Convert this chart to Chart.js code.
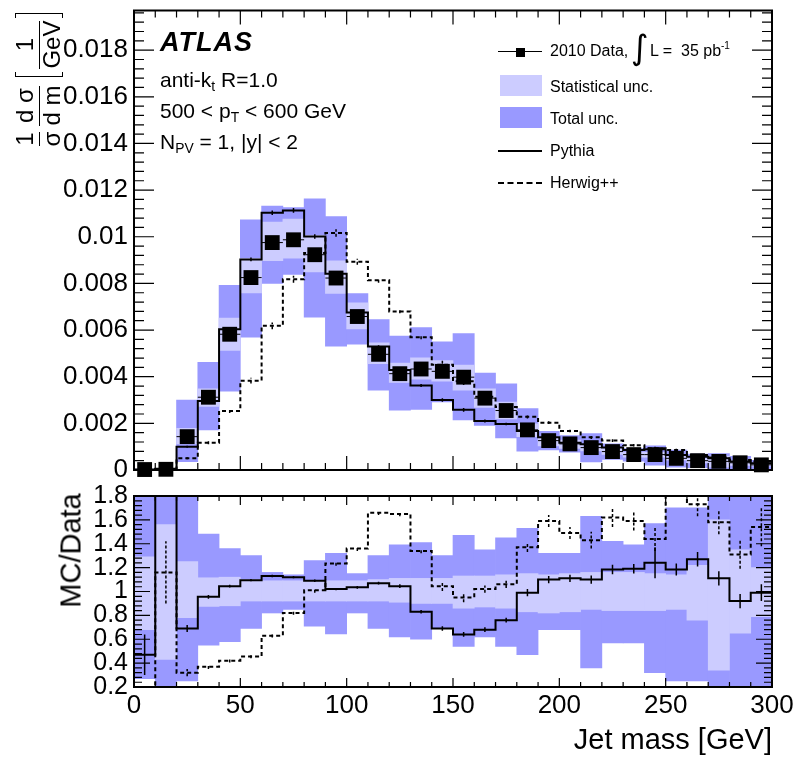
<!DOCTYPE html>
<html>
<head>
<meta charset="utf-8">
<title>Jet mass</title>
<script src="https://cdn.jsdelivr.net/npm/chart.js@4.4.1/dist/chart.umd.min.js"></script>
<style>
  body { margin: 0; background: #fff; }
  #wrap { position: relative; width: 802px; height: 757px; overflow: hidden; font-family: "Liberation Sans", Arial, sans-serif; color: #000; }
  #wrap canvas { position: absolute; left: 0; }
  .t { position: absolute; white-space: nowrap; line-height: 1; }
  .t sub { font-size: 0.66em; vertical-align: -0.32em; line-height: 0; }
  .leg { font-size: 16px; }
  .key { position: absolute; }
  .rot { position: absolute; display: flex; align-items: center; justify-content: center; transform: rotate(-90deg); white-space: nowrap; }
  .frac { display: inline-flex; flex-direction: column; align-items: center; margin: 0 3px; line-height: 0.95; }
  .frac .bar { align-self: stretch; border-top: 1.6px solid #000; margin: 2px 0 1px; }
  .brk { display: inline-block; width: 5px; height: 48px; border: 1.6px solid #000; box-sizing: border-box; }
  .brk.l { border-right: none; margin-left: 6px; }
  .brk.r { border-left: none; }
</style>
</head>
<body>
<div id="wrap">
  <canvas id="ratio" width="802" height="277" style="top:480px"></canvas>
  <canvas id="main" width="802" height="490" style="top:0"></canvas>

  <div class="rot" style="left:-37px;top:56px;width:152px;height:50px;font-size:24px;">
    <span class="frac"><span>1</span><span class="bar"></span><span>σ</span></span>
    <span class="frac"><span>d σ</span><span class="bar"></span><span>d m</span></span>
    <span class="brk l"></span><span class="frac"><span>1</span><span class="bar"></span><span>GeV</span></span><span class="brk r"></span>
  </div>
  <div class="rot" style="left:11px;top:536px;width:120px;height:29px;font-size:29px;line-height:29px;">MC/Data</div>
  <div class="t" style="right:30px;top:725px;font-size:29px;">Jet mass [GeV]</div>

  <div class="t" style="left:160px;top:29px;font-size:27px;font-weight:bold;font-style:italic;letter-spacing:1px;">ATLAS</div>
  <div class="t" style="left:160px;top:69px;font-size:21px;">anti-k<sub>t</sub> R=1.0</div>
  <div class="t" style="left:160px;top:100px;font-size:21px;">500 &lt; p<sub>T</sub> &lt; 600 GeV</div>
  <div class="t" style="left:160px;top:131px;font-size:21px;">N<sub>PV</sub> = 1, |y| &lt; 2</div>

  <div class="key" style="left:498px;top:51px;width:44px;height:0;border-top:1.5px solid #000;"></div>
  <div class="key" style="left:516px;top:48px;width:9px;height:9px;background:#000;"></div>
  <div class="t leg" style="left:550px;top:43px;">2010 Data,</div>
  <div class="t" style="left:631px;top:30px;font-size:34px;font-family:'DejaVu Sans';">∫</div>
  <div class="t leg" style="left:650px;top:43px;">L =&nbsp; 35 pb<sup style="font-size:10px;vertical-align:7px;line-height:0;">-1</sup></div>
  <div class="key" style="left:500px;top:75px;width:42px;height:21px;background:#ccccff;"></div>
  <div class="t leg" style="left:550px;top:79px;">Statistical unc.</div>
  <div class="key" style="left:500px;top:107px;width:42px;height:21px;background:#9999ff;"></div>
  <div class="t leg" style="left:550px;top:111px;">Total unc.</div>
  <div class="key" style="left:498px;top:150px;width:44px;height:0;border-top:2px solid #000;"></div>
  <div class="t leg" style="left:550px;top:143px;">Pythia</div>
  <div class="key" style="left:498px;top:182px;width:44px;height:0;border-top:2px dashed #000;"></div>
  <div class="t leg" style="left:550px;top:175px;">Herwig++</div>
</div>

<script>
const FONT = '"Liberation Sans", Arial, sans-serif';

// bin centres of the jet mass histogram, 10 GeV bins
const massBins = [5,15,25,35,45,55,65,75,85,95,105,115,125,135,145,155,165,175,185,195,205,215,225,235,245,255,265,275,285,295];
const binHalf = 5;
const massTicks = [0,50,100,150,200,250,300];
const xsecTicks = [0,0.002,0.004,0.006,0.008,0.010,0.012,0.014,0.016,0.018];
const xsecTickLabels = ['0','0.002','0.004','0.006','0.008','0.01','0.012','0.014','0.016','0.018'];
const ratioTicks = [0.2,0.4,0.6,0.8,1.0,1.2,1.4,1.6,1.8];
const ratioTickLabels = ['0.2','0.4','0.6','0.8','1','1.2','1.4','1.6','1.8'];

// 1/sigma dsigma/dm [1/GeV]
const dataVals   = [0.00002,0.00003,0.00143,0.00312,0.00582,0.00825,0.00975,0.00987,0.00923,0.00823,0.00658,0.00496,0.00413,0.00433,0.00423,0.00398,0.00308,0.00255,0.00172,0.00126,0.00112,0.00096,0.00079,0.00066,0.00066,0.00050,0.00040,0.00037,0.00031,0.00022];
const pythiaVals = [0.00002,0.00005,0.00100,0.00296,0.00603,0.00903,0.01103,0.01113,0.01001,0.00841,0.00675,0.00529,0.00429,0.00362,0.00300,0.00258,0.00210,0.00197,0.00167,0.00140,0.00117,0.00110,0.00096,0.00086,0.00089,0.00064,0.00057,0.00050,0.00036,0.00029];
const herwigVals = [0.00000,0.00003,0.00050,0.00117,0.00253,0.00383,0.00618,0.00818,0.00930,0.01016,0.00893,0.00813,0.00680,0.00569,0.00451,0.00380,0.00314,0.00270,0.00228,0.00203,0.00167,0.00140,0.00126,0.00106,0.00093,0.00086,0.00064,0.00054,0.00043,0.00036];

// uncertainty bands relative to data (as in the ratio panel)
const statLo = [0.68,0.43,0.78,0.875,0.88,0.92,0.92,0.92,0.92,0.92,0.92,0.92,0.91,0.90,0.90,0.86,0.87,0.86,0.83,0.82,0.83,0.85,0.84,0.84,0.84,0.85,0.76,0.34,0.65,0.79];
const statHi = [1.29,1.56,1.25,1.115,1.12,1.10,1.09,1.09,1.09,1.09,1.09,1.10,1.11,1.11,1.11,1.13,1.13,1.14,1.15,1.14,1.15,1.16,1.16,1.16,1.15,1.14,1.22,1.60,1.35,1.20];
const totLo  = [0.27,0.10,0.25,0.55,0.58,0.69,0.82,0.85,0.71,0.645,0.82,0.69,0.62,0.60,0.69,0.54,0.62,0.54,0.47,0.68,0.68,0.36,0.57,0.57,0.32,0.25,0.25,0.10,0.10,0.10];
const totHi  = [1.90,1.90,2.10,1.48,1.36,1.30,1.16,1.14,1.26,1.32,1.15,1.30,1.39,1.41,1.30,1.47,1.35,1.45,1.53,1.32,1.32,1.63,1.42,1.39,1.57,1.70,1.70,1.90,1.90,1.90];

// MC / Data
const pythiaRatio    = [0.47,2.60,0.69,0.955,1.045,1.095,1.13,1.12,1.09,1.02,1.035,1.07,1.045,0.83,0.69,0.64,0.68,0.76,0.99,1.10,1.11,1.10,1.185,1.19,1.24,1.185,1.27,1.11,0.92,0.99];
const pythiaRatioErr = [0.17,0.30,0.03,0.015,0.012,0.01,0.01,0.01,0.01,0.01,0.012,0.012,0.015,0.015,0.018,0.02,0.02,0.02,0.03,0.03,0.03,0.035,0.04,0.04,0.13,0.05,0.06,0.06,0.06,0.07];
const herwigRatio    = [0.10,1.16,0.32,0.37,0.42,0.455,0.63,0.82,1.01,1.235,1.36,1.66,1.65,1.34,1.045,0.95,1.02,1.06,1.37,1.59,1.49,1.43,1.62,1.59,1.44,1.95,1.73,1.58,1.31,1.54];
const herwigRatioErr = [0.10,0.26,0.03,0.02,0.015,0.015,0.015,0.015,0.02,0.02,0.02,0.02,0.02,0.02,0.04,0.04,0.03,0.03,0.04,0.05,0.05,0.07,0.08,0.08,0.10,0.10,0.10,0.10,0.12,0.16];

const steps = vals => vals.flatMap((v, i) => [{x: massBins[i] - binHalf, y: v}, {x: massBins[i] + binHalf, y: v}]);
const points = vals => vals.map((v, i) => ({x: massBins[i], y: v}));
const band = (lo, hi, ref) => massBins.map((m, i) => ({x: m, y: [lo[i] * (ref ? ref[i] : 1), hi[i] * (ref ? ref[i] : 1)]}));
const scaled = (rel, ref) => rel.map((r, i) => r * ref[i]);

// frame with inward ticks on all four sides, ROOT style
const frameTicks = {
  id: 'frameTicks',
  afterDraw(chart, args, o) {
    const {ctx, chartArea: a, scales: {x, y}} = chart;
    ctx.save();
    ctx.strokeStyle = '#000';
    ctx.lineWidth = 1.2;
    ctx.beginPath();
    for (let i = 0; ; i++) {
      const v = x.min + i * o.xStep;
      if (v > x.max + 1e-9) break;
      const px = x.getPixelForValue(v);
      const len = i % 5 === 0 ? o.xLen[0] : o.xLen[1];
      ctx.moveTo(px, a.bottom); ctx.lineTo(px, a.bottom - len);
      ctx.moveTo(px, a.top); ctx.lineTo(px, a.top + len);
    }
    for (let i = 0; ; i++) {
      const v = o.yStart + i * o.yStep;
      if (v > y.max + 1e-9) break;
      const py = y.getPixelForValue(v);
      const len = i % 5 === 0 ? o.yLen[0] : o.yLen[1];
      ctx.moveTo(a.left, py); ctx.lineTo(a.left + len, py);
      ctx.moveTo(a.right, py); ctx.lineTo(a.right - len, py);
    }
    ctx.stroke();
    ctx.lineWidth = 2;
    ctx.strokeRect(a.left, a.top, a.width, a.height);
    ctx.restore();
  }
};

const errorBars = {
  id: 'errorBars',
  afterDatasetsDraw(chart, args, o) {
    const {ctx, chartArea: a, scales: {x, y}} = chart;
    ctx.save();
    ctx.beginPath(); ctx.rect(a.left, a.top, a.width, a.height); ctx.clip();
    ctx.strokeStyle = '#000';
    (o.sets || []).forEach(s => {
      ctx.lineWidth = s.width;
      ctx.setLineDash(s.dash || []);
      ctx.beginPath();
      s.vals.forEach((v, i) => {
        const px = x.getPixelForValue(massBins[i]);
        if (s.errs) {
          ctx.moveTo(px, y.getPixelForValue(v - s.errs[i]));
          ctx.lineTo(px, y.getPixelForValue(v + s.errs[i]));
        }
        if (s.xbar) {
          const py = y.getPixelForValue(v);
          ctx.moveTo(x.getPixelForValue(massBins[i] - binHalf), py);
          ctx.lineTo(x.getPixelForValue(massBins[i] + binHalf), py);
        }
      });
      ctx.stroke();
    });
    ctx.restore();
  }
};

const tickFont = size => ({family: FONT, size: size});
const noGrid = {display: false, drawTicks: false};

new Chart(document.getElementById('main'), {
  type: 'line',
  data: { datasets: [
    {label: 'Data', data: points(dataVals), showLine: false, pointStyle: 'rect', pointRadius: 10.5, backgroundColor: '#000', borderWidth: 0, clip: false},
    {label: 'Herwig++', data: steps(herwigVals), borderColor: '#000', borderWidth: 2, borderDash: [4, 3], pointRadius: 0, tension: 0},
    {label: 'Pythia', data: steps(pythiaVals), borderColor: '#000', borderWidth: 2, pointRadius: 0, tension: 0},
    {type: 'bar', label: 'Statistical unc.', data: band(statLo, statHi, dataVals), backgroundColor: '#ccccff', grouped: false, barPercentage: 1, categoryPercentage: 1},
    {type: 'bar', label: 'Total unc.', data: band(totLo, totHi, dataVals), backgroundColor: '#9999ff', grouped: false, barPercentage: 1, categoryPercentage: 1}
  ]},
  options: {
    responsive: false, animation: false, devicePixelRatio: 1,
    layout: {padding: {left: 0, right: 30, top: 10, bottom: 20}},
    plugins: {
      legend: {display: false}, tooltip: {enabled: false},
      frameTicks: {xStep: 10, xLen: [14, 7], yStart: 0, yStep: 0.0004, yLen: [20, 10]},
      errorBars: {sets: [
        {vals: dataVals, width: 1, xbar: true},
        {vals: pythiaVals, errs: scaled(pythiaRatioErr, dataVals), width: 1.5},
        {vals: herwigVals, errs: scaled(herwigRatioErr, dataVals), width: 1.5, dash: [3, 2]}
      ]}
    },
    scales: {
      x: {type: 'linear', min: 0, max: 300, offset: false, display: false},
      y: {
        type: 'linear', min: 0, max: 0.0197, grid: noGrid, border: {display: false},
        afterBuildTicks: s => { s.ticks = xsecTicks.map(v => ({value: v})); },
        ticks: {autoSkip: false, padding: 6, color: '#000', font: tickFont(26), callback: (v, i) => xsecTickLabels[i]},
        afterFit: s => { s.width = 134; s.paddingTop = 0; s.paddingBottom = 0; }
      }
    }
  },
  plugins: [errorBars, frameTicks]
});

new Chart(document.getElementById('ratio'), {
  type: 'line',
  data: { datasets: [
    {label: 'Herwig++', data: steps(herwigRatio), borderColor: '#000', borderWidth: 2, borderDash: [4, 3], pointRadius: 0, tension: 0, clip: 0},
    {label: 'Pythia', data: steps(pythiaRatio), borderColor: '#000', borderWidth: 2, pointRadius: 0, tension: 0, clip: 0},
    {type: 'bar', label: 'Statistical unc.', data: band(statLo, statHi), backgroundColor: '#ccccff', grouped: false, barPercentage: 1, categoryPercentage: 1},
    {type: 'bar', label: 'Total unc.', data: band(totLo, totHi), backgroundColor: '#9999ff', grouped: false, barPercentage: 1, categoryPercentage: 1}
  ]},
  options: {
    responsive: false, animation: false, devicePixelRatio: 1,
    layout: {padding: {left: 0, right: 30, top: 16, bottom: 0}},
    plugins: {
      legend: {display: false}, tooltip: {enabled: false},
      frameTicks: {xStep: 10, xLen: [9, 5], yStart: 0.2, yStep: 0.04, yLen: [16, 8]},
      errorBars: {sets: [
        {vals: pythiaRatio, errs: pythiaRatioErr, width: 1.5},
        {vals: herwigRatio, errs: herwigRatioErr, width: 1.5, dash: [3, 2]}
      ]}
    },
    scales: {
      x: {
        type: 'linear', min: 0, max: 300, offset: false, grid: noGrid, border: {display: false},
        afterBuildTicks: s => { s.ticks = massTicks.map(v => ({value: v})); },
        ticks: {autoSkip: false, maxRotation: 0, padding: 3, color: '#000', font: tickFont(26)},
        afterFit: s => { s.height = 70; s.paddingLeft = 0; s.paddingRight = 0; }
      },
      y: {
        type: 'linear', min: 0.2, max: 1.8, grid: noGrid, border: {display: false},
        afterBuildTicks: s => { s.ticks = ratioTicks.map(v => ({value: v})); },
        ticks: {autoSkip: false, padding: 6, color: '#000', font: tickFont(25), callback: (v, i) => ratioTickLabels[i]},
        afterFit: s => { s.width = 134; s.paddingTop = 0; s.paddingBottom = 0; }
      }
    }
  },
  plugins: [errorBars, frameTicks]
});
</script>
</body>
</html>
